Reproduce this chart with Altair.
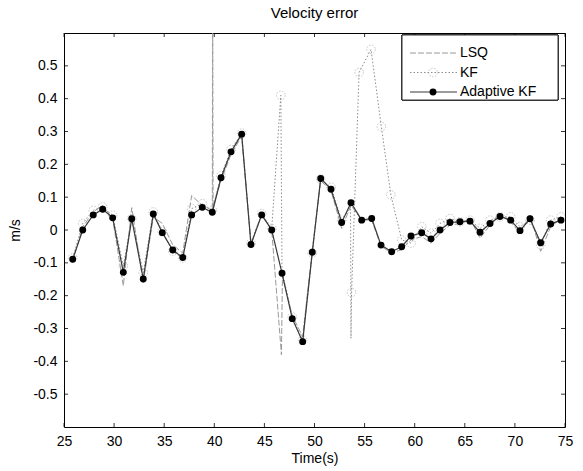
import altair as alt
import pandas as pd

series_names = ["LSQ", "KF", "Adaptive KF"]

# Adaptive KF (solid line, filled dots)
akf_t = [25.87, 26.87, 27.92, 28.86, 29.86, 30.92, 31.76, 32.91, 33.91, 34.81,
         35.85, 36.85, 37.74, 38.80, 39.80, 40.67, 41.67, 42.73, 43.66, 44.73,
         45.73, 46.76, 47.78, 48.82, 49.78, 50.62, 51.65, 52.71, 53.64, 54.71,
         55.71, 56.64, 57.70, 58.70, 59.63, 60.70, 61.63, 62.53, 63.52, 64.52,
         65.52, 66.52, 67.52, 68.51, 69.58, 70.51, 71.51, 72.57, 73.57, 74.60]
akf_v = [-0.089, 0.000, 0.046, 0.063, 0.037, -0.129, 0.034, -0.149, 0.049, -0.008,
         -0.061, -0.084, 0.046, 0.069, 0.054, 0.159, 0.238, 0.292, -0.044, 0.046,
         0.000, -0.132, -0.270, -0.340, -0.068, 0.157, 0.124, 0.023, 0.083, 0.030,
         0.035, -0.046, -0.066, -0.051, -0.018, -0.008, -0.027, 0.000, 0.023, 0.025,
         0.027, -0.007, 0.020, 0.041, 0.030, -0.002, 0.034, -0.039, 0.018, 0.030]

# LSQ (grey dashed line)
lsq_t = [25.87, 26.87, 27.92, 28.86, 29.86, 30.92, 31.76, 32.91, 33.91, 34.81,
         35.85, 36.85, 37.74, 38.80, 39.80, 39.84, 39.88, 40.67, 41.67, 42.73,
         43.66, 44.73, 45.73, 46.70, 46.80, 47.78, 48.82, 49.78, 50.62, 51.65,
         52.71, 53.64, 54.71, 55.71, 56.64, 57.70, 58.70, 59.63, 60.70, 61.63,
         62.53, 63.52, 64.52, 65.52, 66.52, 67.52, 68.51, 69.58, 70.51, 71.51,
         72.57, 73.57, 74.60]
lsq_v = [-0.095, 0.010, 0.055, 0.075, 0.035, -0.170, 0.068, -0.160, 0.040, 0.020,
         -0.045, -0.070, 0.105, 0.075, 0.060, 0.650, 0.070, 0.150, 0.230, 0.285,
         -0.040, 0.045, 0.000, -0.380, -0.140, -0.260, -0.325, -0.060, 0.150, 0.120,
         0.005, 0.075, 0.030, 0.030, -0.050, -0.070, -0.060, -0.030, -0.020, -0.040,
         -0.010, 0.015, 0.020, 0.035, -0.025, 0.015, 0.045, 0.025, -0.010, 0.045,
         -0.065, 0.010, 0.035]

# KF (grey dotted line)
kf_t = [25.87, 26.87, 27.92, 28.86, 29.86, 30.92, 31.76, 32.91, 33.91, 34.81,
        35.85, 36.85, 37.74, 38.80, 39.80, 40.67, 41.67, 42.73, 43.66, 44.73,
        45.73, 46.64, 46.76, 47.78, 48.82, 49.78, 50.62, 51.65, 52.71, 53.60,
        53.64, 53.70, 54.45, 55.64, 56.67, 57.62, 58.70, 59.63, 60.70, 61.63,
        62.53, 63.52, 64.52, 65.52, 66.52, 67.52, 68.51, 69.58, 70.51, 71.51,
        72.57, 73.57, 74.60]
kf_v = [-0.085, 0.020, 0.060, 0.070, 0.045, -0.110, 0.035, -0.130, 0.055, -0.005,
        -0.065, -0.085, 0.065, 0.080, 0.060, 0.165, 0.245, 0.295, -0.040, 0.050,
        0.005, 0.410, -0.125, -0.265, -0.335, -0.070, 0.155, 0.130, 0.030, 0.070,
        -0.330, -0.190, 0.480, 0.550, 0.315, 0.107, -0.030, -0.040, 0.010, -0.010,
        0.020, 0.035, 0.025, 0.030, 0.005, 0.030, 0.040, 0.040, 0.010, 0.030,
        -0.045, 0.030, 0.040]

# KF open-circle markers
kf_mark_t = [25.87, 26.87, 27.92, 28.86, 29.86, 30.92, 31.76, 32.91, 33.91, 34.81,
             35.85, 36.85, 37.74, 38.80, 39.80, 40.67, 41.67, 42.73, 43.66, 44.73,
             45.73, 46.64, 47.78, 48.82, 49.78, 50.62, 51.65, 52.71, 53.70, 54.45,
             55.64, 56.67, 57.62, 58.70, 59.63, 60.70, 61.63, 62.53, 63.52, 64.52,
             65.52, 66.52, 67.52, 68.51, 69.58, 70.51, 71.51, 72.57, 73.57, 74.60]
kf_mark_v = [-0.085, 0.020, 0.060, 0.070, 0.045, -0.110, 0.035, -0.130, 0.055, -0.005,
             -0.065, -0.085, 0.065, 0.080, 0.060, 0.165, 0.245, 0.295, -0.040, 0.050,
             0.005, 0.410, -0.265, -0.335, -0.070, 0.155, 0.130, 0.030, -0.190, 0.480,
             0.550, 0.315, 0.107, -0.030, -0.040, 0.010, -0.010, 0.020, 0.035, 0.025,
             0.030, 0.005, 0.030, 0.040, 0.040, 0.010, 0.030, -0.045, 0.030, 0.040]

x_ticks = [25, 30, 35, 40, 45, 50, 55, 60, 65, 70, 75]
y_ticks = [-0.5, -0.4, -0.3, -0.2, -0.1, 0, 0.1, 0.2, 0.3, 0.4, 0.5]

FONT = "Liberation Sans"
W, H = 501, 394

akf_df = pd.DataFrame({"t": akf_t, "v": akf_v})
lsq_df = pd.DataFrame({"t": lsq_t, "v": lsq_v})
kf_df = pd.DataFrame({"t": kf_t, "v": kf_v})
kfm_df = pd.DataFrame({"t": kf_mark_t, "v": kf_mark_v})

x_scale = alt.Scale(domain=[25, 75], nice=False, zero=False)
y_scale = alt.Scale(domain=[-0.6, 0.6], nice=False, zero=False)

ax_common = dict(ticks=False, domain=False, grid=False, labelFont=FONT,
                 labelFontSize=14, labelColor="black", titleFont=FONT,
                 titleFontSize=14, titleFontWeight="normal", titleColor="black")
x_axis = alt.Axis(values=x_ticks, title="Time(s)", labelPadding=7,
                  titlePadding=3, labelFlush=False, **ax_common)
y_axis = alt.Axis(values=y_ticks, title="m/s", labelPadding=7, titlePadding=10,
                  labelExpr="toString(round(datum.value*10)/10)", **ax_common)

X = alt.X("t:Q", scale=x_scale, axis=x_axis)
Y = alt.Y("v:Q", scale=y_scale, axis=y_axis)

lsq_line = alt.Chart(lsq_df).mark_line(
    color="#9a9a9a", strokeWidth=1, strokeDash=[6, 2], clip=True
).encode(x=X, y=Y, order="t:Q")

kf_line = alt.Chart(kf_df).mark_line(
    color="#8c8c8c", strokeWidth=1, strokeDash=[1.5, 2], clip=True
).encode(x=X, y=Y, order="t:Q")

kf_pts = alt.Chart(kfm_df).mark_point(
    shape="circle", filled=False, size=75, stroke="#999999", strokeWidth=0.8,
    strokeDash=[1.5, 1.5], clip=True
).encode(x=X, y=Y)

akf_line = alt.Chart(akf_df).mark_line(
    color="#3a3a3a", strokeWidth=1.2, clip=True
).encode(x=X, y=Y, order="t:Q")

akf_pts = alt.Chart(akf_df).mark_point(
    shape="circle", filled=True, size=48, color="black", opacity=1, clip=True
).encode(x=X, y=Y)

# inward ticks (MATLAB style) on all four sides
xt = pd.DataFrame({"t": x_ticks})
yt = pd.DataFrame({"v": y_ticks})
tick_style = dict(color="black", strokeWidth=0.8)
xb = alt.Chart(xt).mark_rule(**tick_style).encode(
    x=X, y=alt.value(H), y2=alt.value(H - 4))
xtp = alt.Chart(xt).mark_rule(**tick_style).encode(
    x=X, y=alt.value(0), y2=alt.value(4))
yl = alt.Chart(yt).mark_rule(**tick_style).encode(
    y=Y, x=alt.value(0), x2=alt.value(4))
yr = alt.Chart(yt).mark_rule(**tick_style).encode(
    y=Y, x=alt.value(W), x2=alt.value(W - 4))

# legend box
leg_df = pd.DataFrame({"label": series_names})
leg_box = alt.Chart(leg_df).mark_rect(
    fill="white", stroke="black", strokeWidth=0.8
).encode(x=alt.value(338), x2=alt.value(494), y=alt.value(2), y2=alt.value(67))

leg_layers = [leg_box]
rows = [20, 39.5, 59]
line_styles = [
    dict(color="#9a9a9a", strokeWidth=1, strokeDash=[6, 2]),
    dict(color="#8c8c8c", strokeWidth=1, strokeDash=[1.5, 2]),
    dict(color="#3a3a3a", strokeWidth=1.2),
]
for i, name in enumerate(series_names):
    d = pd.DataFrame({"label": [name]})
    ry = rows[i]
    leg_layers.append(alt.Chart(d).mark_rule(**line_styles[i]).encode(
        x=alt.value(346), x2=alt.value(393), y=alt.value(ry)))
    if name == "KF":
        leg_layers.append(alt.Chart(d).mark_point(
            shape="circle", filled=False, size=75, stroke="#999999",
            strokeWidth=0.8, strokeDash=[1.5, 1.5]
        ).encode(x=alt.value(369), y=alt.value(ry)))
    if name == "Adaptive KF":
        leg_layers.append(alt.Chart(d).mark_point(
            shape="circle", filled=True, size=48, color="black", opacity=1
        ).encode(x=alt.value(369), y=alt.value(ry)))
    leg_layers.append(alt.Chart(d).mark_text(
        font=FONT, fontSize=14, align="left", baseline="middle", color="black"
    ).encode(x=alt.value(396), y=alt.value(ry), text="label:N"))

chart = alt.layer(
    lsq_line, kf_line, kf_pts, akf_line, akf_pts, xb, xtp, yl, yr, *leg_layers
).properties(
    width=W, height=H,
    padding={"left": 64, "top": 33, "right": 18, "bottom": 44},
    autosize=alt.AutoSizeParams(type="none"),
    title=alt.Title("Velocity error", font=FONT, fontSize=15,
                    fontWeight="normal", color="black", offset=12),
    background="white",
).configure_view(stroke="black", strokeWidth=1)

chart.save("out.html", embed_options={"renderer": "svg", "actions": False})
